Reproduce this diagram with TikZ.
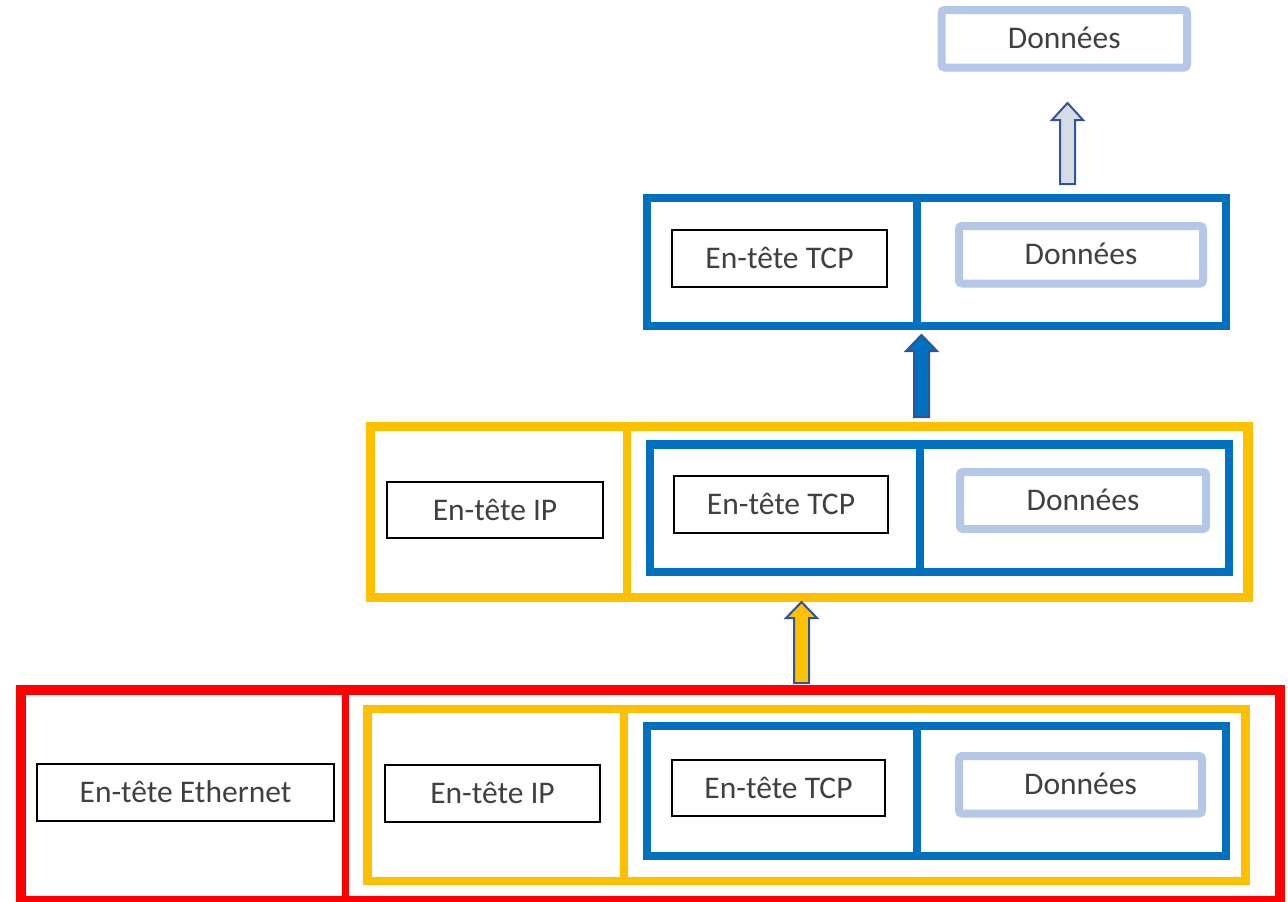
\documentclass[tikz,border=0pt]{standalone}
\usepackage{fontspec}
\setmainfont{Carlito}
\definecolor{fred}{HTML}{FF0000}
\definecolor{fyel}{HTML}{FFC000}
\definecolor{fblue}{HTML}{0070C0}
\definecolor{flight}{HTML}{B4C7E7}
\definecolor{arrline}{HTML}{2F5597}
\definecolor{arrlight}{HTML}{D6DCE5}
\definecolor{txt}{HTML}{404040}
\begin{document}
\begin{tikzpicture}[x=1pt,y=-1pt,
  lbl/.style={inner sep=0pt, outer sep=0pt, text=txt, font=\fontsize{31.5}{36}\selectfont, text height=20.3pt, text depth=0pt},
  hdr/.style={lbl, draw=black, line width=1.6pt, fill=white},
  dat/.style={lbl, draw=flight, line width=8pt, rounded corners=3pt, fill=white},
  frm/.style={draw=#1, line width=8.5pt, inner sep=0pt, outer sep=0pt},
  divl/.style={draw=#1, line width=8.5pt},
  blockarrow/.style={draw=arrline, line width=2pt, fill=#1, line join=miter}
]
\useasboundingbox (0,0) rectangle (1288,902);

% ---------- top: data only
\node[dat, minimum width=245.5pt, minimum height=57.5pt] (d0) at (1064.25,38.75) {Données};

% ---------- TCP segment
\node[frm=fblue, minimum width=579pt, minimum height=128pt] (t1) at (936.5,262) {};
\draw[divl=fblue] (t1.north -| 917,0) -- (t1.south -| 917,0);
\node[hdr, minimum width=215pt, minimum height=57pt] (h1) at (779.5,258.5) {En-tête TCP};
\node[dat, minimum width=244pt, minimum height=57.5pt] (d1) at (1081,254.75) {Données};

% ---------- IP packet
\node[frm=fyel, line width=9.5pt, minimum width=877.5pt, minimum height=171pt] (i2) at (809.25,512) {};
\draw[divl=fyel] (i2.north -| 627,0) -- (i2.south -| 627,0);
\node[hdr, minimum width=216pt, minimum height=56pt] (p2) at (495,510) {En-tête IP};
\node[frm=fblue, minimum width=579pt, minimum height=127.5pt] (t2) at (939.5,508.25) {};
\draw[divl=fblue] (t2.north -| 920,0) -- (t2.south -| 920,0);
\node[hdr, minimum width=214pt, minimum height=57pt] (h2) at (781,504.5) {En-tête TCP};
\node[dat, minimum width=246pt, minimum height=57pt] (d2) at (1083,500.5) {Données};

% ---------- Ethernet frame
\node[frm=fred, line width=10pt, minimum width=1259.5pt, minimum height=211pt] (e3) at (650.25,795.5) {};
\draw[divl=fred, line width=7pt] (e3.north -| 345,0) -- (e3.south -| 345,0);
\node[hdr, minimum width=297pt, minimum height=57pt] (x3) at (185.5,792.5) {En-tête Ethernet};
\node[frm=fyel, minimum width=878pt, minimum height=172pt] (i3) at (806.5,795) {};
\draw[divl=fyel] (i3.north -| 624,0) -- (i3.south -| 624,0);
\node[hdr, minimum width=215pt, minimum height=57pt] (p3) at (492.5,793.5) {En-tête IP};
\node[frm=fblue, minimum width=579pt, minimum height=130pt] (t3) at (936.5,791) {};
\draw[divl=fblue] (t3.north -| 917,0) -- (t3.south -| 917,0);
\node[hdr, minimum width=213pt, minimum height=56pt] (h3) at (778.5,788) {En-tête TCP};
\node[dat, minimum width=243pt, minimum height=57.5pt] (d3) at (1080.5,784.75) {Données};

% ---------- block arrows (decapsulation)
\draw[blockarrow=arrlight] (1060,184) -- (1060,120) -- (1052,120) -- (1067.5,103) -- (1083,120) -- (1075,120) -- (1075,184) -- cycle;
\draw[blockarrow=fblue] (914,417) -- (914,351) -- (906,351) -- (921.5,335) -- (937,351) -- (929,351) -- (929,417) -- cycle;
\draw[blockarrow=fyel] (794,683) -- (794,618) -- (786,618) -- (801.5,602) -- (817,618) -- (809,618) -- (809,683) -- cycle;
\end{tikzpicture}
\end{document}
